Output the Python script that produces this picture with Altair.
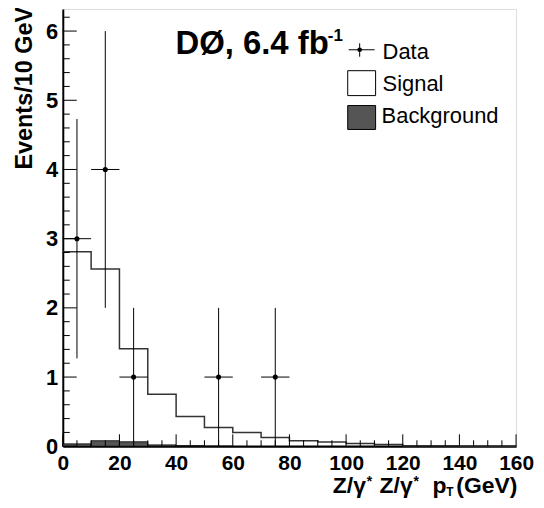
import altair as alt
import pandas as pd

# ---- data ----
bin_edges = [0, 10, 20, 30, 40, 50, 60, 70, 80, 90, 100, 110, 120, 130, 140, 150, 160]
signal = [2.81, 2.56, 1.41, 0.75, 0.43, 0.27, 0.20, 0.125, 0.08, 0.06, 0.04, 0.025, 0.008, 0.006, 0.004, 0.003]
background = [0.035, 0.08, 0.065, 0.02, 0.01, 0.005, 0.0, 0.0, 0.0, 0.0, 0.0, 0.0, 0.0, 0.0, 0.0, 0.0]
data_x = [5, 15, 25, 55, 75]
data_y = [3, 4, 1, 1, 1]
data_lo = [1.27, 2.0, 0.0, 0.0, 0.0]
data_hi = [4.73, 6.0, 2.0, 2.0, 2.0]
data_xlo = [0, 10, 20, 50, 70]
data_xhi = [10, 20, 30, 60, 80]
x_major = [0, 20, 40, 60, 80, 100, 120, 140, 160]
x_minor = [v for v in range(0, 161, 5) if v % 20 != 0]
y_major = [0, 1, 2, 3, 4, 5, 6]
y_minor = [round(i * 0.2, 1) for i in range(0, 32) if i % 5 != 0]

FONT = "Liberation Sans"
W, H = 455, 439

xs = alt.Scale(domain=[0, 160], nice=False, zero=False)
ys = alt.Scale(domain=[0, 6.32], nice=False, zero=False)

xaxis = alt.Axis(values=x_major, ticks=False, tickSize=0, labelPadding=6, labelFontSize=21,
                 labelFont=FONT, labelFontWeight="bold", labelColor="black", title=None,
                 domainColor="black", domainWidth=2, grid=False, labelFlush=False, labelOverlap=False)
yaxis = alt.Axis(values=y_major, ticks=False, tickSize=0, labelPadding=5, labelFontSize=22,
                 labelFont=FONT, labelFontWeight="bold", labelColor="black", title=None,
                 domainColor="black", domainWidth=2, grid=False, labelFlush=False, labelOverlap=False)

def X(field, **kw):
    return alt.X(field, scale=xs, axis=xaxis, **kw)

def Y(field, **kw):
    return alt.Y(field, scale=ys, axis=yaxis, **kw)

hist = pd.DataFrame({"lo": bin_edges[:-1], "hi": bin_edges[1:], "sig": signal, "bkg": background})
step = pd.DataFrame({"x": bin_edges, "y": signal + [signal[-1]]})
pts = pd.DataFrame({"x": data_x, "y": data_y, "lo": data_lo, "hi": data_hi, "xlo": data_xlo, "xhi": data_xhi})

bkg_layer = alt.Chart(hist).mark_rect(fill="#555555", stroke="black", strokeWidth=0.8).encode(
    x=X("lo:Q"), x2="hi:Q", y=Y("bkg:Q"), y2=alt.datum(0))

sig_layer = alt.Chart(step).mark_line(interpolate="step-after", color="#333333", strokeWidth=1.5).encode(
    x=X("x:Q"), y=Y("y:Q"))

vbar = alt.Chart(pts).mark_rule(color="black", strokeWidth=1).encode(x=X("x:Q"), y=Y("lo:Q"), y2="hi:Q")
hbar = alt.Chart(pts).mark_rule(color="black", strokeWidth=1).encode(x=X("xlo:Q"), x2="xhi:Q", y=Y("y:Q"))
dots = alt.Chart(pts).mark_circle(color="black", opacity=1, size=26).encode(x=X("x:Q"), y=Y("y:Q"))

# inside ticks
xmaj = alt.Chart(pd.DataFrame({"t": x_major})).mark_rule(color="black", strokeWidth=1).encode(
    x=X("t:Q"), y=alt.value(H), y2=alt.value(H - 12))
xmin = alt.Chart(pd.DataFrame({"t": x_minor})).mark_rule(color="black", strokeWidth=1).encode(
    x=X("t:Q"), y=alt.value(H), y2=alt.value(H - 6))
ymaj = alt.Chart(pd.DataFrame({"t": y_major})).mark_rule(color="black", strokeWidth=1).encode(
    y=Y("t:Q"), x=alt.value(0), x2=alt.value(14))
ymin = alt.Chart(pd.DataFrame({"t": y_minor})).mark_rule(color="black", strokeWidth=1).encode(
    y=Y("t:Q"), x=alt.value(0), x2=alt.value(7))

one = pd.DataFrame({"a": [0]})

def txt(s, x, y, size, bold=True, align="left", baseline="alphabetic", angle=0):
    kw = dict(font=FONT, fontSize=size, fontWeight="bold" if bold else "normal", color="black",
              align=align, baseline=baseline, text=s)
    if angle:
        kw["angle"] = angle
    return alt.Chart(one).mark_text(**kw).encode(x=alt.value(x), y=alt.value(y))

TB = 486  # title baseline (plot coords)
texts = [
    txt("DØ, 6.4 fb", 267, 45, 33, align="right"),
    txt("-1", 266, 32, 17),
    txt("Events/10 GeV", -31, -2, 23.5, align="right", angle=270),
    txt("Z/γ", 271, TB, 23),
    txt("*", 305, TB - 7, 14),
    txt("Z/γ", 318, TB, 23),
    txt("*", 352, TB - 7, 14),
    txt("p", 371, TB, 23),
    txt("T", 385, TB + 3, 12),
    txt("(GeV)", 395, TB, 23),
    txt("Data", 321, 50, 22, bold=False),
    txt("Signal", 321, 82, 22, bold=False),
    txt("Background", 320, 115, 22, bold=False),
]

leg_h = alt.Chart(one).mark_rule(color="black", strokeWidth=1).encode(
    x=alt.value(287), x2=alt.value(313), y=alt.value(41))
leg_v = alt.Chart(one).mark_rule(color="black", strokeWidth=1).encode(
    x=alt.value(298), y=alt.value(34.5), y2=alt.value(48))
leg_dot = alt.Chart(one).mark_circle(color="black", opacity=1, size=22).encode(
    x=alt.value(298), y=alt.value(41))
leg_sig = alt.Chart(one).mark_rect(fill="white", stroke="black", strokeWidth=1).encode(
    x=alt.value(286), x2=alt.value(314), y=alt.value(62), y2=alt.value(87))
leg_bkg = alt.Chart(one).mark_rect(fill="#555555", stroke="black", strokeWidth=1).encode(
    x=alt.value(286), x2=alt.value(314), y=alt.value(97), y2=alt.value(121))

chart = alt.layer(
    bkg_layer, sig_layer, vbar, hbar, dots, xmaj, xmin, ymaj, ymin,
    leg_h, leg_v, leg_dot, leg_sig, leg_bkg, *texts
).properties(
    width=W, height=H,
    autosize=alt.AutoSizeParams(type="none"),
    padding={"left": 55, "top": 0, "right": 20, "bottom": 53},
).configure_view(stroke="black", strokeWidth=1).configure(background="white")

chart.save("out.html", embed_options={"renderer": "svg", "actions": False})
